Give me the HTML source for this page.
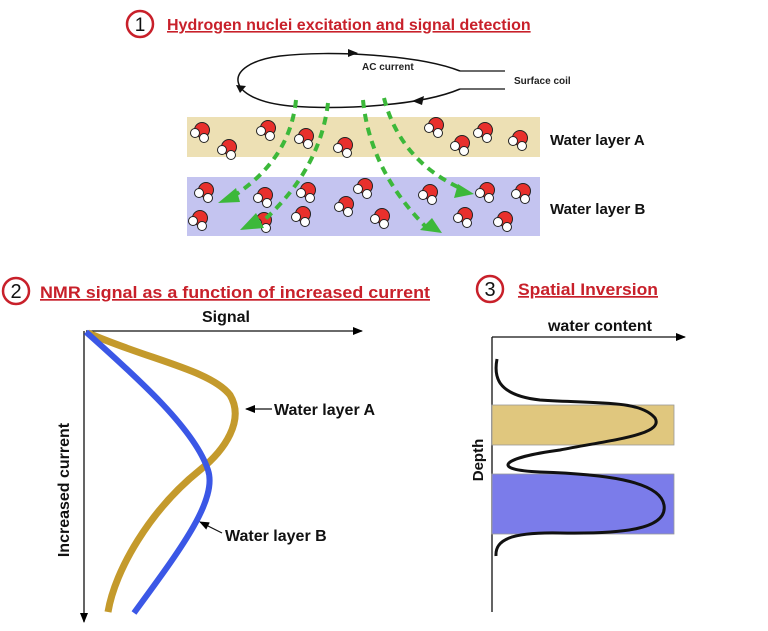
<!DOCTYPE html>
<html><head><meta charset="utf-8"><style>
html,body{margin:0;padding:0;background:#fff;}
svg{display:block;}
text{font-family:"Liberation Sans",Arial,sans-serif;}
</style></head><body>
<svg width="768" height="631" viewBox="0 0 768 631" xmlns="http://www.w3.org/2000/svg">
<defs>
<marker id="ah" markerWidth="10" markerHeight="8" refX="9" refY="4" orient="auto" markerUnits="userSpaceOnUse"><path d="M0,0 L10,4 L0,8 z" fill="#000"/></marker>
<g id="m"><circle r="7.5" fill="#e8302c" stroke="#222" stroke-width="1"/><circle cx="-7" cy="3" r="4.5" fill="#fff" stroke="#222" stroke-width="1"/><circle cx="2" cy="8" r="4.5" fill="#fff" stroke="#222" stroke-width="1"/></g>
</defs>
<!-- Section 1 title -->
<circle cx="140" cy="24" r="13" fill="none" stroke="#c8202a" stroke-width="2.5"/>
<text x="140" y="31" font-size="19" text-anchor="middle" fill="#111">1</text>
<text x="167" y="30" font-size="16" font-weight="bold" fill="#c8202a" text-decoration="underline">Hydrogen nuclei excitation and signal detection</text>
<!-- coil -->
<path d="M460,71 C420,55 330,50 280,56 C220,64 225,100 290,106 C340,110 420,106 460,89" fill="none" stroke="#111" stroke-width="1.5"/>
<line x1="460" y1="71" x2="505" y2="71" stroke="#111" stroke-width="1.3"/>
<line x1="460" y1="89" x2="505" y2="89" stroke="#111" stroke-width="1.3"/>
<path d="M348,49 L358,53 L348,57 z" fill="#111"/>
<path d="M236,85 L246,86 L240,93 z" fill="#111"/>
<path d="M412,101 L424,96 L422,105 z" fill="#111"/>
<text x="362" y="70" font-size="10" font-weight="bold" fill="#222">AC current</text>
<text x="514" y="84" font-size="10" font-weight="bold" fill="#222">Surface coil</text>
<!-- layers -->
<rect x="187" y="117" width="353" height="40" fill="#ede0b4"/>
<rect x="187" y="177" width="353" height="59" fill="#c4c4f0"/>
<text x="550" y="145" font-size="15" font-weight="bold" fill="#111">Water layer A</text>
<text x="550" y="214" font-size="15" font-weight="bold" fill="#111">Water layer B</text>
<!-- molecules -->
<g>
<use href="#m" x="202" y="130"/><use href="#m" x="229" y="147"/><use href="#m" x="268" y="128"/><use href="#m" x="306" y="136"/>
<use href="#m" x="345" y="145"/><use href="#m" x="436" y="125"/><use href="#m" x="462" y="143"/><use href="#m" x="485" y="130"/><use href="#m" x="520" y="138"/>
<use href="#m" x="206" y="190"/><use href="#m" x="265" y="195"/><use href="#m" x="308" y="190"/><use href="#m" x="365" y="186"/><use href="#m" x="346" y="204"/>
<use href="#m" x="430" y="192"/><use href="#m" x="487" y="190"/><use href="#m" x="523" y="191"/>
<use href="#m" x="200" y="218"/><use href="#m" x="303" y="214"/><use href="#m" x="382" y="216"/><use href="#m" x="465" y="215"/><use href="#m" x="505" y="219"/><use href="#m" x="264" y="220"/>
</g>
<!-- green dashed arrows -->
<g stroke="#3cb83a" stroke-width="4" stroke-dasharray="8,6" fill="none">
<path d="M296,100 Q290,160 232,197"/>
<path d="M328,103 Q320,170 262,222"/>
<path d="M363,100 Q370,170 425,226"/>
<path d="M384,98 Q400,160 460,188"/>
</g>
<g fill="#3cb83a">
<path d="M218,203 L236,188 L240,202 z"/>
<path d="M240,230 L256,213 L264,228 z"/>
<path d="M442,233 L420,230 L432,218 z"/>
<path d="M474,194 L454,198 L458,184 z"/>
</g>
<!-- Section 2 -->
<circle cx="16" cy="291" r="13" fill="none" stroke="#c8202a" stroke-width="2.5"/>
<text x="16" y="298" font-size="20" text-anchor="middle" fill="#111">2</text>
<text x="40" y="298" font-size="17" font-weight="bold" fill="#c8202a" text-decoration="underline" textLength="390" lengthAdjust="spacingAndGlyphs">NMR signal as a function of increased current</text>
<text x="226" y="322" font-size="16" font-weight="bold" fill="#111" text-anchor="middle">Signal</text>
<line x1="86" y1="331" x2="362" y2="331" stroke="#111" stroke-width="1.3" marker-end="url(#ah)"/>
<line x1="84" y1="331" x2="84" y2="622" stroke="#111" stroke-width="1.3" marker-end="url(#ah)"/>
<text transform="translate(69,490) rotate(-90)" font-size="16" font-weight="bold" fill="#111" text-anchor="middle">Increased current</text>
<path d="M88,333 C150,360 210,370 230,395 C245,420 225,450 200,470 C150,510 115,570 108,612" fill="none" stroke="#c49a2c" stroke-width="7"/>
<path d="M86,332 C140,380 195,430 208,470 C218,500 180,550 134,613" fill="none" stroke="#3b57e6" stroke-width="6"/>
<line x1="272" y1="409" x2="246" y2="409" stroke="#111" stroke-width="1.2" marker-end="url(#ah)"/>
<text x="274" y="415" font-size="16" font-weight="bold" fill="#111">Water layer A</text>
<line x1="222" y1="533" x2="200" y2="522" stroke="#111" stroke-width="1.2" marker-end="url(#ah)"/>
<text x="225" y="541" font-size="16" font-weight="bold" fill="#111">Water layer B</text>
<!-- Section 3 -->
<circle cx="490" cy="289" r="13" fill="none" stroke="#c8202a" stroke-width="2.5"/>
<text x="490" y="296" font-size="20" text-anchor="middle" fill="#111">3</text>
<text x="518" y="295" font-size="17" font-weight="bold" fill="#c8202a" text-decoration="underline" textLength="140" lengthAdjust="spacingAndGlyphs">Spatial Inversion</text>
<text x="600" y="331" font-size="16" font-weight="bold" fill="#111" text-anchor="middle">water content</text>
<line x1="492" y1="337" x2="685" y2="337" stroke="#111" stroke-width="1.3" marker-end="url(#ah)"/>
<line x1="492" y1="337" x2="492" y2="612" stroke="#111" stroke-width="1.3"/>
<rect x="492" y="405" width="182" height="40" fill="#e0c77e" stroke="#999" stroke-width="0.8"/>
<rect x="492" y="474" width="182" height="60" fill="#7b7cea" stroke="#999" stroke-width="0.8"/>
<text transform="translate(483,460) rotate(-90)" font-size="15" font-weight="bold" fill="#111" text-anchor="middle">Depth</text>
<path d="M497,359 C494,375 495,395 540,400 C600,404 640,400 655,418 C665,435 610,440 560,450 C500,458 490,470 540,472 C600,474 660,480 664,505 C668,530 620,534 560,533 C510,532 495,540 496,556" fill="none" stroke="#111" stroke-width="3"/>
</svg>
</body></html>
